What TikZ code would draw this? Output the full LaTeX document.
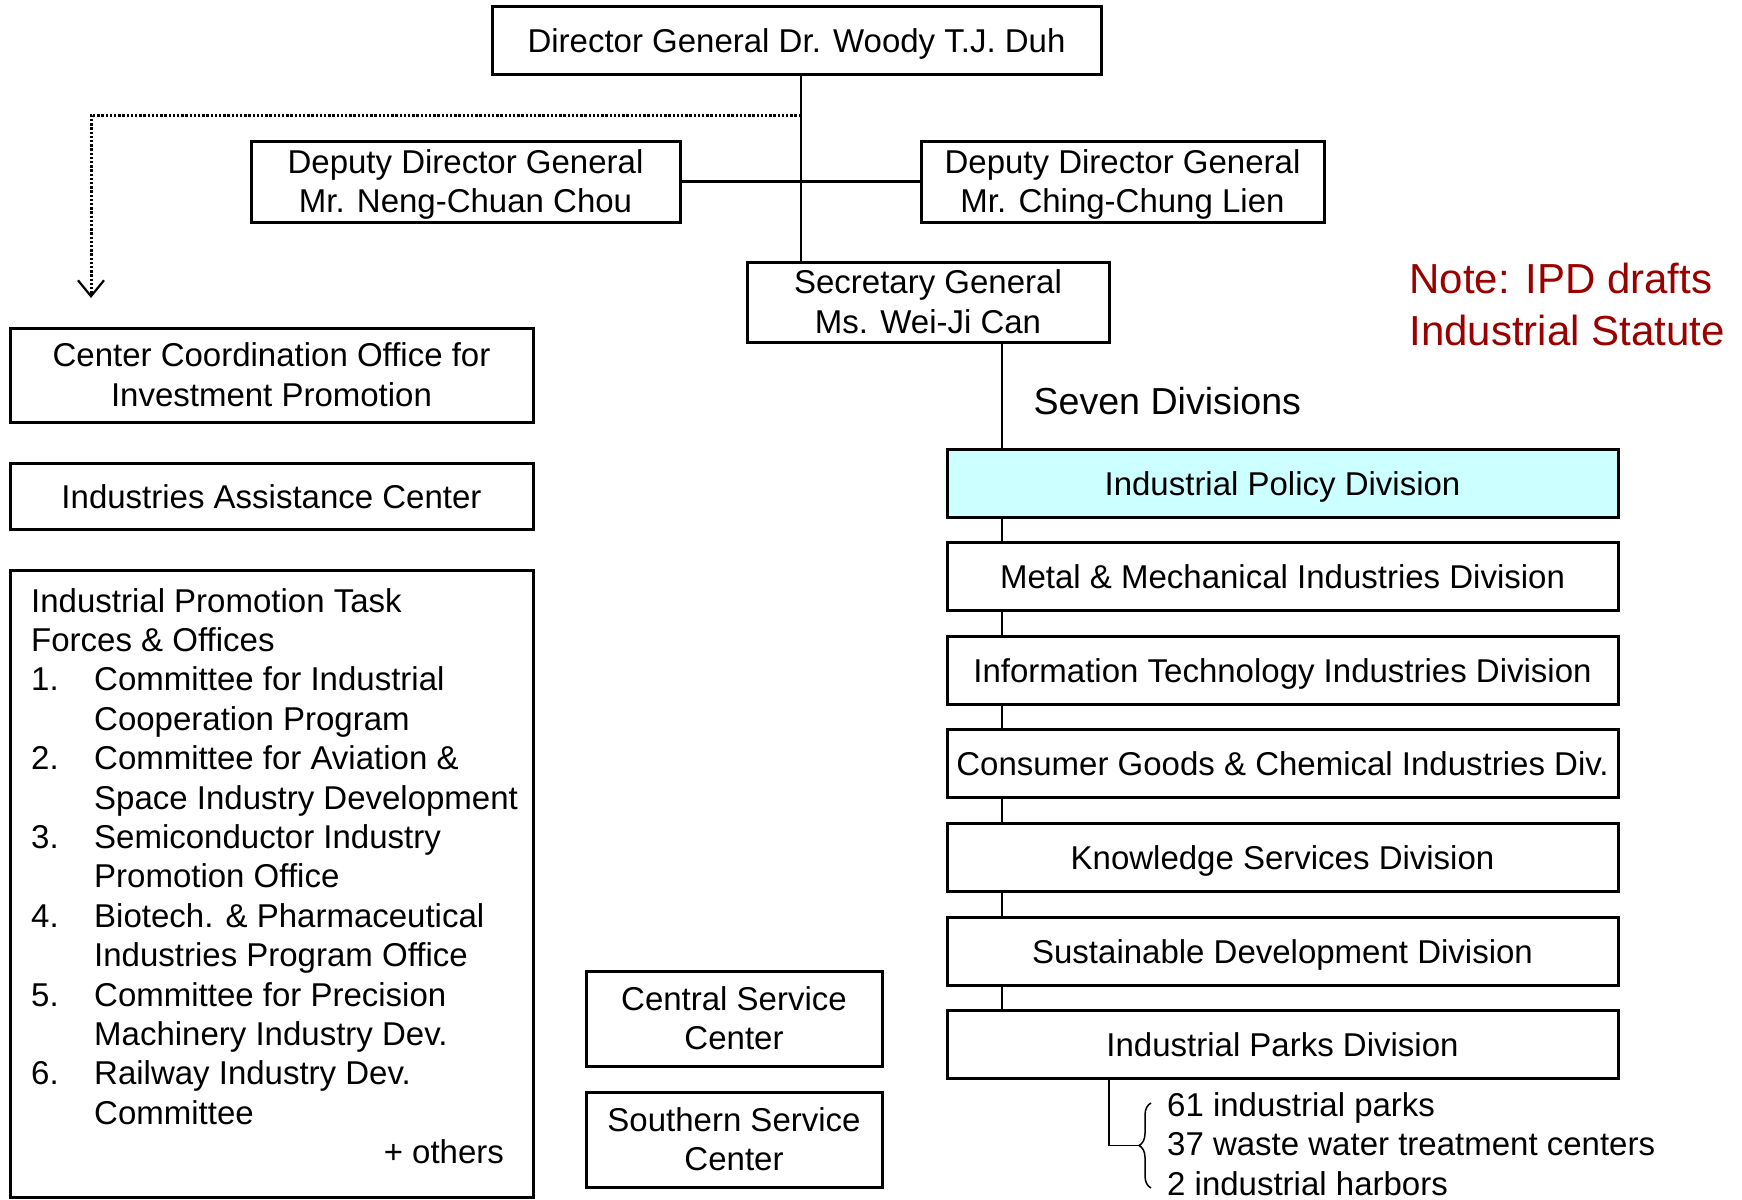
\documentclass[tikz,border=0pt]{standalone}
\usepackage{fontspec}
\setmainfont{Liberation Sans}
\usetikzlibrary{positioning,arrows.meta,decorations.pathreplacing}
\definecolor{policycyan}{RGB}{204,255,255}
\definecolor{notered}{RGB}{153,0,0}

\begin{document}
\begin{tikzpicture}[x=1pt,y=-1pt,font=\fontsize{33}{39.4}\selectfont,
	orgbox/.style={draw,line width=3pt,inner sep=0pt,outer sep=0pt,align=center,fill=white},
	oneline/.style={text height=24pt,text depth=0pt},
	twoline/.style={text height=62pt,text depth=0pt},
	divbox/.style={orgbox,oneline,minimum width=671pt,minimum height=68pt},
	leftbox/.style={orgbox,minimum width=523pt},
	svcbox/.style={orgbox,twoline,minimum width=296pt,minimum height=95pt},
	link/.style={line width=2.8pt},
	dotlink/.style={line width=3pt,dash pattern=on 2.4pt off 1.8pt}]
			\useasboundingbox (0,0) rectangle (1742,1199);
			\node[orgbox,oneline,minimum width=609pt,minimum height=67pt] (dg) at (796.5,40.5) {Director General Dr. Woody T.J. Duh};
			\node[orgbox,twoline,minimum width=429pt,minimum height=81pt] (ddl) at (465.5,181.5) {Deputy Director General\\Mr. Neng-Chuan Chou};
			\node[orgbox,twoline,minimum width=403pt,minimum height=81pt] (ddr) at (1122.5,181.5) {Deputy Director General\\Mr. Ching-Chung Lien};
			\node[orgbox,twoline,minimum width=362pt,minimum height=80pt] (sg) at (928,302) {Secretary General\\Ms. Wei-Ji Can};
			\node[leftbox,twoline,minimum height=94pt] (cco) at (271.5,375) {Center Coordination Office for\\Investment Promotion};
			\node[leftbox,oneline,minimum height=66pt] (iac) at (271.5,496) {Industries Assistance Center};
			\node[leftbox,minimum height=627pt] (task) at (271.5,883.5) {};
			\node[anchor=base west,inner sep=0pt] (tasklist) at (31,612) {\begin{tabular}[t]{@{}p{63pt}@{}l@{}}
				\multicolumn{2}{@{}l@{}}{Industrial Promotion Task}\\
				\multicolumn{2}{@{}l@{}}{Forces \& Offices}\\
				1. & Committee for Industrial\\
				   & Cooperation Program\\
				2. & Committee for Aviation \&\\
				   & Space Industry Development\\
				3. & Semiconductor Industry\\
				   & Promotion Office\\
				4. & Biotech. \& Pharmaceutical\\
				   & Industries Program Office\\
				5. & Committee for Precision\\
				   & Machinery Industry Dev.\\
				6. & Railway Industry Dev.\\
				   & Committee\\
				\multicolumn{2}{@{}r@{}}{+ others\hspace*{14pt}}
			\end{tabular}};
			\node[svcbox] (csc) at (734,1018.5) {Central Service\\Center};
			\node[svcbox] (ssc) at (734,1139.5) {Southern Service\\Center};
			\node[divbox,fill=policycyan] (ipd) at (1282.5,483) {Industrial Policy Division};
			\node[divbox,below=25.6pt of ipd] (metal) {Metal \& Mechanical Industries Division};
			\node[divbox,below=25.6pt of metal] (itd) {Information Technology Industries Division};
			\node[divbox,below=25.6pt of itd] (consumer) {Consumer Goods \& Chemical Industries Div.};
			\node[divbox,below=25.6pt of consumer] (knowledge) {Knowledge Services Division};
			\node[divbox,below=25.6pt of knowledge] (sustain) {Sustainable Development Division};
			\node[divbox,below=25.6pt of sustain] (parks) {Industrial Parks Division};
			\node[anchor=base west,font=\fontsize{37.6}{45}\selectfont] (seven) at (1030,414) {Seven Divisions};
			\node[anchor=base west,align=left,text=notered,font=\fontsize{42}{52}\selectfont] (note) at (1406,345) {Note: IPD drafts\\Industrial Statute};
			\node[anchor=base west,align=left,inner sep=0pt] (parkfacts) at (1167,1195) {61 industrial parks\\37 waste water treatment centers\\2 industrial harbors};
			\coordinate (ccotip) at (91,298);
			\coordinate (bracetop) at (1151,1103);
			\coordinate (bracebot) at (1151,1188);
			\coordinate (bracetip) at (1139,1145.5);
			% links
			\draw[link] ([xshift=4.5pt]dg.south) -- ([xshift=4.5pt]dg.south |- sg.north);
			\draw[link] (ddl.east) -- (ddr.west);
			\draw[dotlink,-{Straight Barb[length=16pt,width=26pt,line width=2.2pt]}] ([xshift=4.5pt,yshift=-41pt]dg.south) -| (ccotip);
			\draw[link] ([xshift=55pt]ipd.north west |- sg.south) -- ([xshift=55pt]ipd.north west);
			\draw[link] ([xshift=55pt]ipd.south west) -- ([xshift=55pt]metal.north west);
			\draw[link] ([xshift=55pt]metal.south west) -- ([xshift=55pt]itd.north west);
			\draw[link] ([xshift=55pt]itd.south west) -- ([xshift=55pt]consumer.north west);
			\draw[link] ([xshift=55pt]consumer.south west) -- ([xshift=55pt]knowledge.north west);
			\draw[link] ([xshift=55pt]knowledge.south west) -- ([xshift=55pt]sustain.north west);
			\draw[link] ([xshift=55pt]sustain.south west) -- ([xshift=55pt]parks.north west);
			% parks bracket
			\draw[line width=1.5pt] ([xshift=162pt]parks.south west) |- (bracetip);
			\draw[line width=1.5pt,decorate,decoration={brace,amplitude=12pt}] (bracebot) -- (bracetop);
		\end{tikzpicture}
\end{document}
